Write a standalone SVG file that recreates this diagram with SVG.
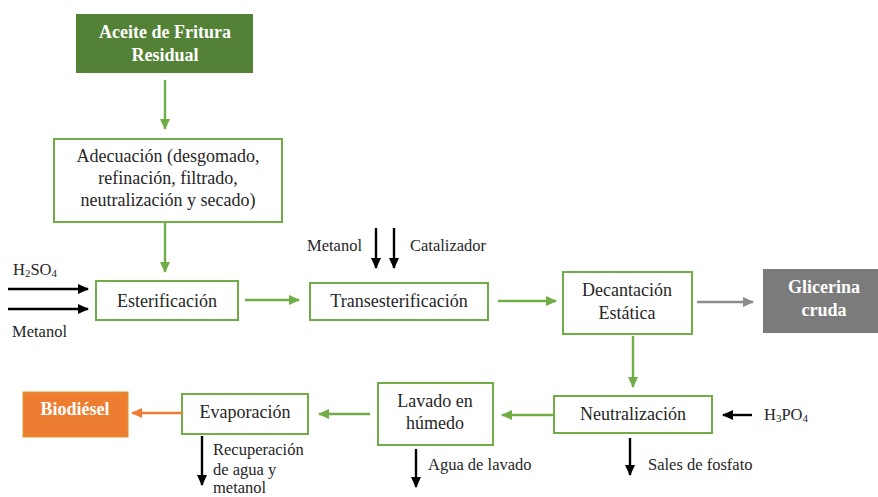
<svg xmlns="http://www.w3.org/2000/svg" width="878" height="497" viewBox="0 0 878 497">
<style>
text{font-family:"Liberation Serif","Times New Roman",serif;fill:#262626}
.box{fill:#fff;stroke:#70ad47;stroke-width:2}
.t{font-size:18px;text-anchor:middle}
.w{font-size:18px;font-weight:bold;fill:#fff;text-anchor:middle}
.l{font-size:16.5px}
.g{stroke:#70ad47;stroke-width:2.4;fill:none}
.k{stroke:#000;stroke-width:2.4;fill:none}
.gr{stroke:#8c8c8c;stroke-width:2.4;fill:none}
.o{stroke:#ed7d31;stroke-width:2.4;fill:none}
.sub{font-size:11px}
</style>
<defs>
<marker id="ag" markerWidth="11" markerHeight="11" refX="10" refY="5.5" orient="auto" markerUnits="userSpaceOnUse"><path d="M0,0.5 L11,5.5 L0,10.5 Z" fill="#70ad47"/></marker>
<marker id="ak" markerWidth="11" markerHeight="11" refX="10" refY="5.5" orient="auto" markerUnits="userSpaceOnUse"><path d="M0,0.5 L11,5.5 L0,10.5 Z" fill="#000"/></marker>
<marker id="agr" markerWidth="11" markerHeight="11" refX="10" refY="5.5" orient="auto" markerUnits="userSpaceOnUse"><path d="M0,0.5 L11,5.5 L0,10.5 Z" fill="#8c8c8c"/></marker>
<marker id="ao" markerWidth="11" markerHeight="11" refX="10" refY="5.5" orient="auto" markerUnits="userSpaceOnUse"><path d="M0,0.5 L11,5.5 L0,10.5 Z" fill="#ed7d31"/></marker>
</defs>
<rect width="878" height="497" fill="#fff"/>

<g id="aceite">
<rect x="76" y="14" width="177" height="59" fill="#538135"/>
<text class="w" x="165" y="38">Aceite de Fritura</text>
<text class="w" x="165" y="61">Residual</text>
</g>
<g id="adecuacion">
<rect class="box" x="54" y="139" width="228" height="83"/>
<text class="t" x="168" y="162">Adecuación (desgomado,</text>
<text class="t" x="168" y="184">refinación, filtrado,</text>
<text class="t" x="168" y="206">neutralización y secado)</text>
</g>
<g id="esterificacion">
<rect class="box" x="96" y="281" width="142" height="39"/>
<text class="t" x="167" y="307">Esterificación</text>
</g>
<g id="transesterificacion">
<rect class="box" x="310" y="283" width="178" height="37"/>
<text class="t" x="399" y="307">Transesterificación</text>
</g>
<g id="decantacion">
<rect class="box" x="563" y="272" width="129" height="62"/>
<text class="t" x="627" y="296">Decantación</text>
<text class="t" x="627" y="319">Estática</text>
</g>
<g id="glicerina">
<rect x="763" y="269" width="115" height="64" fill="#7b7b7b"/>
<text class="w" x="824" y="293">Glicerina</text>
<text class="w" x="824" y="316">cruda</text>
</g>
<g id="neutralizacion">
<rect class="box" x="554" y="396" width="158" height="37"/>
<text class="t" x="633" y="420">Neutralización</text>
</g>
<g id="lavado">
<rect class="box" x="378" y="383" width="115" height="62"/>
<text class="t" x="435" y="407">Lavado en</text>
<text class="t" x="435" y="429">húmedo</text>
</g>
<g id="evaporacion">
<rect class="box" x="182" y="394" width="126" height="40"/>
<text class="t" x="245" y="418">Evaporación</text>
</g>
<g id="biodiesel">
<rect x="23" y="392" width="105" height="45" fill="#ed7d31" stroke="#d99a2b" stroke-width="1"/>
<text class="w" x="75" y="415">Biodiésel</text>
</g>

<g id="connectors">
<line class="g" x1="165" y1="80" x2="165" y2="129" marker-end="url(#ag)"/>
<line class="g" x1="165" y1="222" x2="165" y2="272" marker-end="url(#ag)"/>
<line class="g" x1="245" y1="300" x2="299" y2="300" marker-end="url(#ag)"/>
<line class="g" x1="498" y1="301" x2="556" y2="301" marker-end="url(#ag)"/>
<line class="gr" x1="697" y1="302" x2="753" y2="302" marker-end="url(#agr)"/>
<line class="g" x1="633" y1="336" x2="633" y2="387" marker-end="url(#ag)"/>
<line class="g" x1="553" y1="415" x2="502" y2="415" marker-end="url(#ag)"/>
<line class="g" x1="370" y1="414" x2="319" y2="414" marker-end="url(#ag)"/>
<line class="o" x1="182" y1="413" x2="132" y2="413" marker-end="url(#ao)"/>
<line class="k" x1="8" y1="289" x2="88" y2="289" marker-end="url(#ak)"/>
<line class="k" x1="8" y1="309" x2="88" y2="309" marker-end="url(#ak)"/>
<line class="k" x1="376" y1="228" x2="376" y2="268" marker-end="url(#ak)"/>
<line class="k" x1="394" y1="228" x2="394" y2="268" marker-end="url(#ak)"/>
<line class="k" x1="752" y1="415" x2="723" y2="415" marker-end="url(#ak)"/>
<line class="k" x1="630" y1="438" x2="630" y2="475" marker-end="url(#ak)"/>
<line class="k" x1="416" y1="449" x2="416" y2="487" marker-end="url(#ak)"/>
<line class="k" x1="202" y1="436" x2="202" y2="485" marker-end="url(#ak)"/>
</g>

<g id="labels">
<text class="l" x="13" y="275">H<tspan class="sub" dy="2">2</tspan><tspan dy="-2">SO</tspan><tspan class="sub" dy="2">4</tspan></text>
<text class="l" x="12" y="337">Metanol</text>
<text class="l" x="362" y="251" text-anchor="end">Metanol</text>
<text class="l" x="410" y="251">Catalizador</text>
<text class="l" x="764" y="420">H<tspan class="sub" dy="2">3</tspan><tspan dy="-2">PO</tspan><tspan class="sub" dy="2">4</tspan></text>
<text class="l" x="648" y="470">Sales de fosfato</text>
<text class="l" x="428" y="470">Agua de lavado</text>
<text class="l" x="213" y="455">Recuperación</text>
<text class="l" x="213" y="475">de agua y</text>
<text class="l" x="213" y="493">metanol</text>
</g>
</svg>
